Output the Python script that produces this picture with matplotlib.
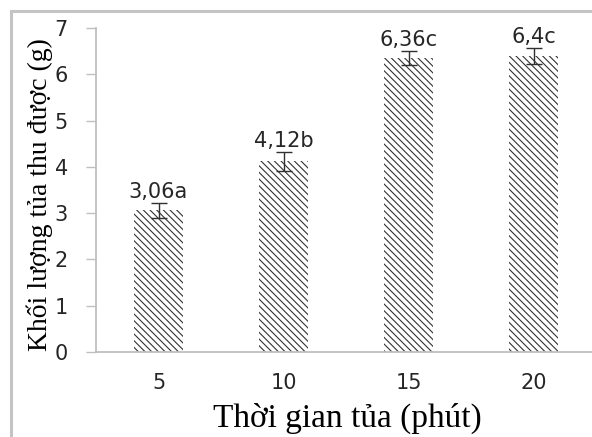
import matplotlib
matplotlib.use("Agg")
from matplotlib import pyplot as plt
from matplotlib.lines import Line2D

# precipitation time (minutes) vs. mass of precipitate collected
times = ["5", "10", "15", "20"]
mass = [3.06, 4.12, 6.36, 6.4]
mass_err = [0.16, 0.21, 0.15, 0.17]
mass_labels = ["3,06a", "4,12b", "6,36c", "6,4c"]

axis_grey = "#bfbfbf"
text_dark = "#262626"
sans = "DejaVu Sans"
serif = "Liberation Serif"

plt.rcParams["hatch.linewidth"] = 0.8

fig = plt.figure(figsize=(5.92, 4.37), dpi=100)
ax = fig.add_axes([96 / 592, 1 - 352 / 437, 500 / 592, 324 / 437])

x = range(len(times))
ax.bar(x, mass, width=0.39, color="white", edgecolor="#333333",
       linewidth=0, hatch="\\\\\\\\\\")
ax.errorbar(x, mass, yerr=mass_err, fmt="none", ecolor="#303030",
            elinewidth=1, capsize=5.5, capthick=1)

for xi, m, e, lab in zip(x, mass, mass_err, mass_labels):
    ax.text(xi, m + e + 0.1, lab, ha="center", va="baseline",
            fontsize=15, family=sans, color=text_dark)

ax.set_xlim(-0.5, 3.5)
ax.set_ylim(0, 7)
ax.set_xticks(list(x))
ax.set_xticklabels(times, fontsize=15, family=sans, color=text_dark)
ax.set_yticks(range(8))
ax.set_yticklabels([str(v) for v in range(8)], fontsize=15,
                   family=sans, color=text_dark)
ax.tick_params(axis="x", length=0, pad=15)
ax.tick_params(axis="y", length=7.2, width=1, color=axis_grey, pad=13)

for side in ("top", "right"):
    ax.spines[side].set_visible(False)
for side in ("left", "bottom"):
    ax.spines[side].set_color(axis_grey)
    ax.spines[side].set_linewidth(1.3)

ax.set_xlabel("Thời gian tủa (phút)", fontsize=24, family=serif,
              color="black")
ax.xaxis.set_label_coords(251.5 / 500, -51 / 324)
ax.set_ylabel("Khối lượng tủa thu được (g)", fontsize=20, family=serif,
              color="black")
ax.yaxis.set_label_coords(-43 / 500, 0.485)

# light frame along the top and left edges
fig.add_artist(Line2D([10.5 / 592, 10.5 / 592], [0, 1 - 10.5 / 437],
                      transform=fig.transFigure, color="#c4c4c4", lw=2.2))
fig.add_artist(Line2D([10.5 / 592, 1], [1 - 10.5 / 437, 1 - 10.5 / 437],
                      transform=fig.transFigure, color="#c4c4c4", lw=2.2))

fig.savefig("out.png", dpi=100)
